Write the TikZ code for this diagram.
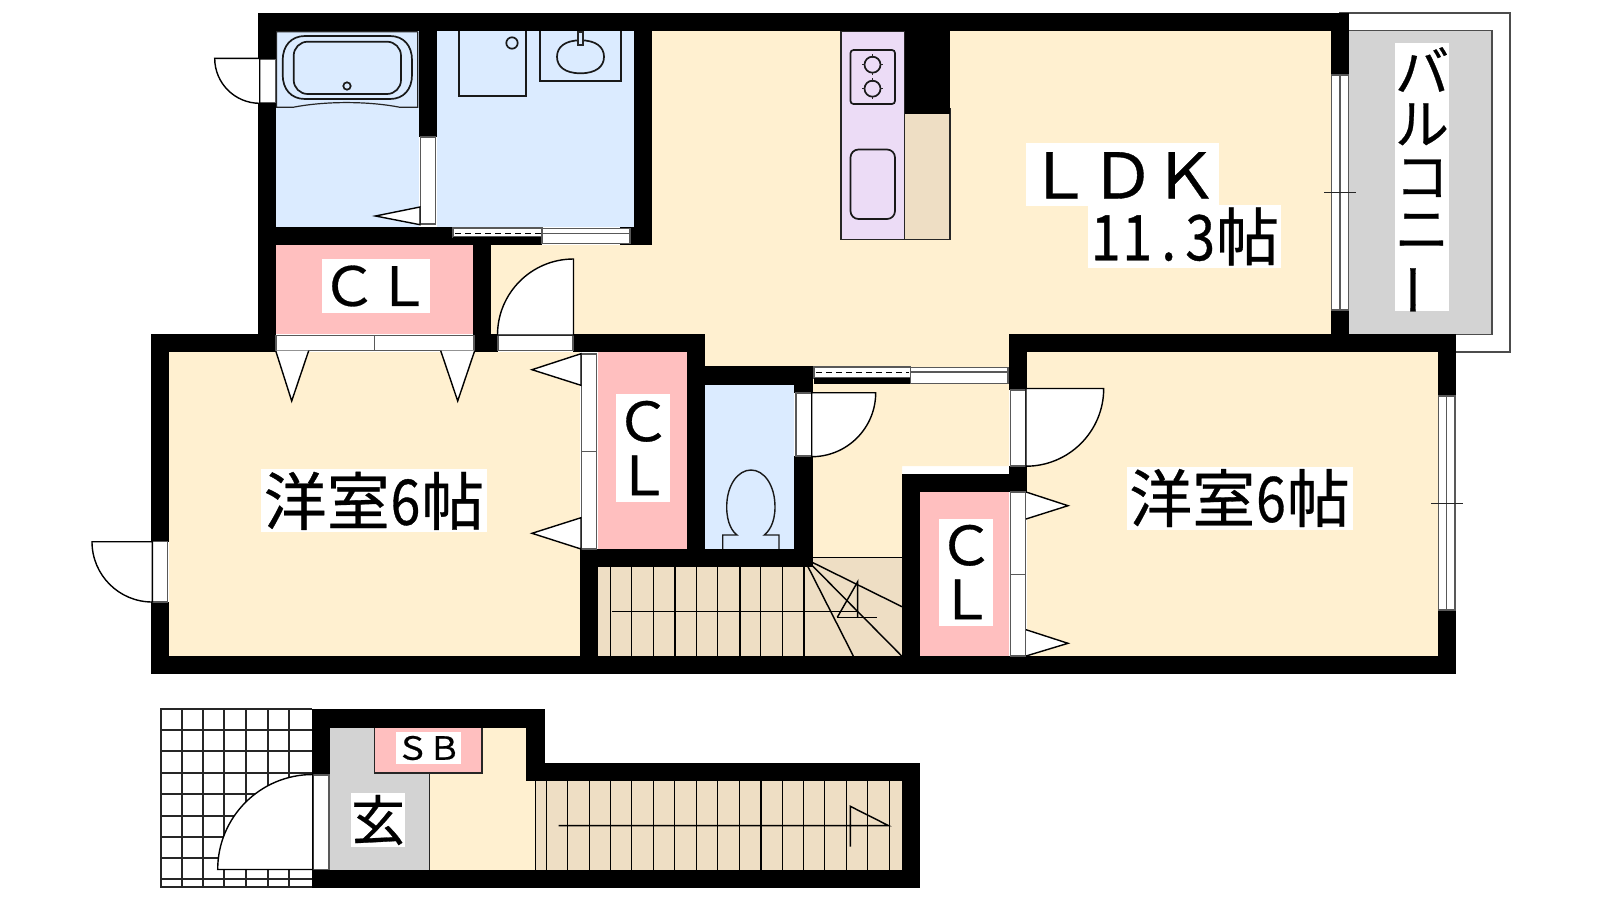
\documentclass[tikz,border=0pt]{standalone}
\usepackage{fontspec}
\usepackage{graphicx}
\newfontfamily\cjk[FakeBold=0.5]{Noto Sans CJK JP}
\newfontfamily\cjknarrow[FakeStretch=0.85,FakeBold=0.5]{Noto Sans CJK JP}
\newfontfamily\cjkwide[FakeStretch=1.04,FakeBold=0.6]{Noto Sans CJK JP}
\newcommand{\hw}[1]{\makebox[31.5pt]{\cjknarrow #1}}
\newcommand{\fw}[1]{\makebox[1em]{\cjkwide #1}}
\definecolor{cream}{HTML}{FFF0D0}
\definecolor{bluef}{HTML}{DBEBFF}
\definecolor{pinkf}{HTML}{FFBFBF}
\definecolor{lilac}{HTML}{ECDCF6}
\definecolor{tanf}{HTML}{EEDEC4}
\definecolor{grayf}{HTML}{D3D3D3}
\tikzset{
  wallf/.style={fill=black,draw=none},
  thin line/.style={draw=black!85,line width=1.2pt},
  fixture/.style={draw=black!90,line width=1.7pt},
  opening/.style={fill=white,draw=black!65,line width=1.3pt},
  swingdoor/.style={fill=white,draw=black,line width=1.4pt},
  leaf/.style={fill=white,draw=black,line width=1.4pt},
  tread/.style={draw=black,line width=1.45pt},
  gridline/.style={draw=black!85,line width=1.7pt},
  biglabel/.style={fill=white,inner sep=0pt,text=black,font=\cjk\fontsize{63}{63}\selectfont,text height=55.5pt,text depth=7.5pt,minimum width=193pt,align=center},
  roomlabel/.style={biglabel,minimum width=226pt},
  midlabel/.style={fill=white,inner sep=0pt,text=black,font=\cjk\fontsize{54}{54}\selectfont,align=center},
  smalllabel/.style={fill=white,inner sep=0pt,text=black,font=\cjk\fontsize{32}{32}\selectfont,align=center},
}
\begin{document}
\begin{tikzpicture}[x=1pt,y=-1pt]
\useasboundingbox (0,0) rectangle (1600,900);
% ---- room fills
\fill[cream] (652,31)--(1331,31)--(1331,334)--(1009,334)--(1009,466)--(902,466)--(902,560)--(813,560)--(813,366)--(705,366)--(705,334)--(491,334)--(491,245)--(652,245)--cycle;
\fill[cream] (169,352) rectangle (580,656);
\fill[cream] (1027,352) rectangle (1438,656);
\fill[bluef] (276,31) rectangle (419,227);
\fill[bluef] (437,31) rectangle (634,227);
\fill[bluef] (705,385) rectangle (794,549);
\fill[pinkf] (276,245) rectangle (473,333.5);
\fill[pinkf] (598,352) rectangle (687,549);
\fill[pinkf] (920,492) rectangle (1009,656);
\fill[tanf] (598,566) rectangle (902,656);
\fill[tanf] (813,557) rectangle (902,566);
% ---- balcony
\fill[grayf] (1349,30.5) rectangle (1492,334);
\draw[thin line,draw=black!70] (1339,13)--(1510,13)--(1510,352)--(1456,352);
\draw[thin line,draw=black!70] (1349,30.5)--(1492,30.5)--(1492,334.3)--(1446,334.3);
% ---- kitchen
\filldraw[fill=lilac,thin line] (841,31) rectangle (904.5,239.7);
\filldraw[fill=tanf,thin line] (904.5,109) rectangle (950,239.7);
\draw[fixture,rounded corners=3pt] (850.5,50) rectangle (895,104);
\foreach \cy in {64.7,88.7}{
  \draw[fixture] (872.5,\cy) circle[radius=8pt];
  \draw[thin line] (872.5,\cy-10.5)--(872.5,\cy-7) (872.5,\cy+7)--(872.5,\cy+10.5) (862,\cy)--(865,\cy) (880,\cy)--(883,\cy);
}
\draw[fixture,rounded corners=8pt] (850.5,149.5) rectangle (895,219);
% ---- bath fixtures
\draw[thin line] (417.7,31.7)--(276.5,31.7)--(276.5,107.3)--(293,107.3) .. controls (325,101) and (368,101) .. (400,107.3)--(417.7,107.3)--(417.7,31.7);
\draw[fixture] (305,36)--(390,36) .. controls (404,36) and (412,46) .. (412,60)--(412,75) .. controls (412,89) and (404,99) .. (390,99)--(305,99) .. controls (291,99) and (282.7,89) .. (282.7,75)--(282.7,60) .. controls (282.7,46) and (291,36) .. (305,36)--cycle;
\draw[fixture,rounded corners=14pt] (293.7,41.7) rectangle (401,94);
\draw[fixture] (347,86) circle[radius=3.7pt];
\draw[fixture] (458.7,31)--(458.7,95.7)--(525.7,95.7)--(525.7,31);
\draw[fixture] (512,43) circle[radius=5.7pt];
\draw[fixture] (540.3,31)--(540.3,80.7)--(621,80.7)--(621,31);
\draw[fixture] (580.5,40.3) .. controls (596,40.3) and (604,47) .. (604,56.8) .. controls (604,66.5) and (596,73.3) .. (580.5,73.3) .. controls (565,73.3) and (557,66.5) .. (557,56.8) .. controls (557,47) and (565,40.3) .. (580.5,40.3)--cycle;
\filldraw[fill=bluef,thin line] (578,32) rectangle (583,45);
% ---- toilet
\draw[fixture,line width=1.4pt] (722.7,549)--(722.7,535)--(737,535) .. controls (733,532) and (726.7,524) .. (726.7,507) .. controls (726.7,485) and (738,470) .. (751,470) .. controls (764,470) and (775,485) .. (775,507) .. controls (775,524) and (768,532) .. (764.3,535)--(779,535)--(779,549);
% ---- stairs
\foreach \sx in {610.3,631.7,653.7,675,696.7,717.7,740,760.7,782.7,804}{
  \draw[tread] (\sx,566)--(\sx,656);
}
\draw[tread] (813,557.3)--(902,557.3);
\draw[tread] (808,566.7)--(853.3,656);
\draw[tread] (811.7,565)--(901.7,656);
\draw[tread] (813,562.7)--(902,606.7);
\draw[tread] (611.7,611.7)--(857.7,611.7);
\draw[tread] (857.7,617.3)--(857.7,581.7)--(837.3,617.3);
\draw[tread] (837.3,617.3)--(877.3,617.3);
% ---- entrance
\foreach \gx in {160.7,181.7,203.3,224.3,245.7,267.7,289}{
  \draw[gridline] (\gx,708.7)--(\gx,888);
}
\foreach \gy in {709.3,730,750.7,772.7,794,815.7,836.7,857.7,879.3,887.3}{
  \draw[gridline] (160,\gy)--(312,\gy);
}
\fill[grayf] (330,727.7) rectangle (429.3,870);
\fill[cream] (429.3,727.7) rectangle (526,870);
\fill[cream] (526,781) rectangle (535.5,870);
\fill[tanf] (535.5,781) rectangle (902,870);
\filldraw[fill=pinkf,thin line] (374.7,727.7) rectangle (482,773);
\draw[thin line] (429.3,773)--(429.3,870);
\foreach \sx in {535.3,546.7,567.7,589.3,610.3,631.7,653.7,674.3,696.7,717.7,739.3,761,782.3,803.7,824.7,846.7,867.7,889.3}{
  \draw[tread] (\sx,781)--(\sx,870);
}
\draw[tread] (558.7,825.7)--(888.7,825.7)--(850.3,806.3)--(850.3,846.7);
% ---- walls
\fill[wallf] (258,13) rectangle (1349,31);
\fill[wallf] (258,13) rectangle (276,352);
\fill[wallf] (419,31) rectangle (437,137);
\fill[wallf] (258,227) rectangle (453,245);
\fill[wallf] (634,31) rectangle (652,245);
\fill[wallf] (620,227) rectangle (652,245);
\fill[wallf] (473,245) rectangle (491,352);
\fill[wallf] (151,334) rectangle (276,352);
\fill[wallf] (491,334) rectangle (498,352);
\fill[wallf] (573,334) rectangle (705,352);
\fill[wallf] (687,334) rectangle (705,566);
\fill[wallf] (705,366) rectangle (813,385);
\fill[wallf] (794,366) rectangle (813,393);
\fill[wallf] (794,456) rectangle (813,567);
\fill[wallf] (580,549) rectangle (813,567);
\fill[wallf] (580,549) rectangle (598,656);
\fill[wallf] (151,334) rectangle (169,542);
\fill[wallf] (151,602) rectangle (169,674);
\fill[wallf] (151,656) rectangle (1456,674);
\fill[wallf] (902,474) rectangle (920,656);
\fill[wallf] (902,474) rectangle (1027,492);
\fill[wallf] (1009,334) rectangle (1027,390);
\fill[wallf] (1009,466) rectangle (1027,492);
\fill[wallf] (1009,334) rectangle (1456,352);
\fill[wallf] (1331,13) rectangle (1349,75);
\fill[wallf] (1331,310) rectangle (1349,334);
\fill[wallf] (1438,334) rectangle (1456,396);
\fill[wallf] (1438,610) rectangle (1456,674);
\fill[wallf] (905,31) rectangle (950,114);
\fill[wallf] (312,709) rectangle (545,727.7);
\fill[wallf] (312,709) rectangle (330,775);
\fill[wallf] (526,709) rectangle (545,781);
\fill[wallf] (526,763) rectangle (920,781);
\fill[wallf] (902,763) rectangle (920,888.3);
\fill[wallf] (312,870) rectangle (920,888.3);
% ---- sliding doors
\filldraw[opening] (453,228) rectangle (542,237);
\fill[wallf] (453,237) rectangle (542,245);
\draw[black,line width=1.2pt,dash pattern=on 6pt off 4pt] (455,233.7)--(541,233.7);
\filldraw[opening] (542,228.7) rectangle (630,233.7);
\filldraw[opening] (542,233.7) rectangle (630,243.7);
\filldraw[opening] (814,367) rectangle (910.5,378);
\fill[wallf] (814,378) rectangle (910.5,384);
\draw[black,line width=1.2pt,dash pattern=on 6pt off 4pt] (816,372.7)--(909,372.7);
\filldraw[opening] (910.5,367.3) rectangle (1008,372);
\filldraw[opening] (910.5,372) rectangle (1008,383.7);
% ---- folding / swing openings
\filldraw[opening] (420.5,137) rectangle (435.7,224);
\filldraw[leaf] (420,207)--(375.5,216)--(420,224.7)--cycle;
\filldraw[opening] (276,335.7) rectangle (374.7,350.7);
\filldraw[opening] (374.7,335.7) rectangle (474,350.7);
\filldraw[leaf] (275.7,350.7)--(291.7,401)--(308.7,350.7);
\filldraw[leaf] (440.7,350.7)--(457.7,401)--(474.7,350.7);
\filldraw[opening] (581.5,354) rectangle (596.5,451.7);
\filldraw[opening] (581.5,451.7) rectangle (596.5,549);
\filldraw[leaf] (581,353.7)--(532,369.7)--(581,385.3)--cycle;
\filldraw[leaf] (581,517.7)--(532,533.3)--(581,549)--cycle;
\filldraw[opening] (1010.5,492) rectangle (1025.5,574.7);
\filldraw[opening] (1010.5,574.7) rectangle (1025.5,656);
\filldraw[leaf] (1026,492)--(1068,505.7)--(1026,519);
\filldraw[leaf] (1026,629.7)--(1068,643.3)--(1026,656);
% ---- windows
\filldraw[opening] (1331.5,75) rectangle (1340,310);
\filldraw[opening] (1340,75) rectangle (1348.5,310);
\draw[thin line] (1324,192.3)--(1356,192.3);
\filldraw[opening] (1438.5,396) rectangle (1446.5,610);
\filldraw[opening] (1446.5,396) rectangle (1455,610);
\draw[thin line] (1431,503.3)--(1463,503.3);
% ---- swing doors
\filldraw[opening] (259.7,59.3) rectangle (275.7,102.7);
\filldraw[swingdoor] (214.7,58.3) arc[start angle=180,end angle=270,radius=45pt]--(259.7,58.3)--cycle;
\filldraw[opening] (498,335.7) rectangle (573,350.7);
\filldraw[swingdoor] (497.5,335) arc[start angle=180,end angle=90,radius=76pt]--(573.5,335)--cycle;
\filldraw[opening] (796,393) rectangle (811.7,456);
\filldraw[swingdoor] (875.7,392.7) arc[start angle=0,end angle=-90,radius=64pt]--(811.7,392.7)--cycle;
\filldraw[opening] (1010.5,390) rectangle (1025.5,466);
\filldraw[swingdoor] (1103.7,388.5) arc[start angle=0,end angle=-90,radius=77.7pt]--(1026,388.5)--cycle;
\filldraw[opening] (152.7,541.7) rectangle (167.3,602);
\filldraw[swingdoor] (92,541.7) arc[start angle=180,end angle=270,radius=60.3pt]--(152.3,541.7)--cycle;
\filldraw[opening] (313.7,775) rectangle (329,869.3);
\filldraw[swingdoor] (217.7,869.5) arc[start angle=180,end angle=90,radius=95pt]--(312.7,869.5)--cycle;
% ---- labels
\node[biglabel] (ldk) at (1122.5,174.5) {\fw{Ｌ}\fw{Ｄ}\fw{Ｋ}};
\node[biglabel] (ldkarea) at (1184.5,236.3) {\hw{1}\hw{1}\hw{.}\hw{3}帖};
\node[roomlabel] (westL) at (374,500.8) {洋室\hw{6}帖};
\node[roomlabel] (westR) at (1239.5,498) {洋室\hw{6}帖};
\node[midlabel,minimum width=108pt,minimum height=54pt] (clA) at (376,286) {\fw{Ｃ}\fw{Ｌ}};
\node[midlabel,minimum width=54pt,minimum height=108pt] (clB) at (643,448) {\fw{Ｃ}\\\fw{Ｌ}};
\node[midlabel,minimum width=54pt,minimum height=107pt] (clC) at (966,572) {\fw{Ｃ}\\\fw{Ｌ}};
\node[midlabel,minimum width=54pt,minimum height=268pt] (balcbox) at (1422,177) {};
\node[inner sep=0pt,text=black,font=\cjk\fontsize{54}{52.5}\selectfont,align=center] (balc) at (1422,182) {バ\\ル\\コ\\ニ\\\rotatebox[origin=c]{90}{ー}};
\node[midlabel,minimum width=54pt,minimum height=54pt] (genkan) at (378,820) {玄};
\node[smalllabel,minimum width=65pt,minimum height=32pt] (sb) at (428.5,748) {\fw{Ｓ}\fw{Ｂ}};
\end{tikzpicture}
\end{document}
